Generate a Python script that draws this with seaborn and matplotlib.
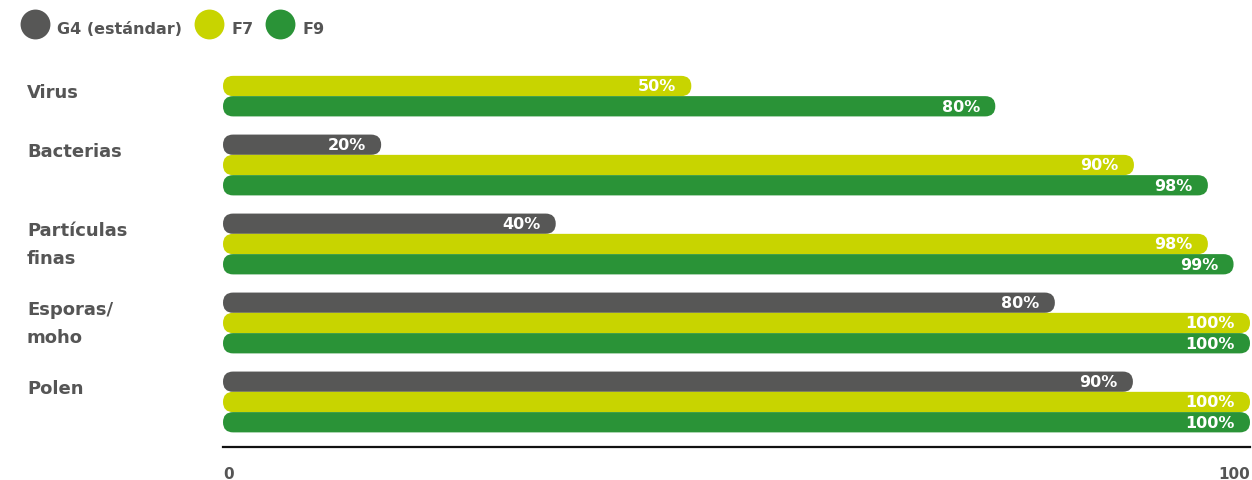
import numpy as np
import pandas as pd
import matplotlib
matplotlib.use("Agg")
import matplotlib.pyplot as plt
from matplotlib.patches import FancyBboxPatch
from matplotlib.lines import Line2D
from matplotlib.transforms import blended_transform_factory, offset_copy
import seaborn as sns

# ---- data ----
categories = ["Virus", "Bacterias", "Partículas\nfinas", "Esporas/\nmoho", "Polen"]
series_names = ["G4 (estándar)", "F7", "F9"]
# printed percentages
g4_labels = [None, 20, 40, 80, 90]
f7_labels = [50, 90, 98, 100, 100]
f9_labels = [80, 98, 99, 100, 100]
# drawn bar lengths (axis 0..100)
g4_lengths = [None, 15.4, 32.4, 81.0, 88.6]
f7_lengths = [45.6, 88.7, 95.9, 100, 100]
f9_lengths = [75.2, 95.9, 98.4, 100, 100]
x_tick_values = [0, 100]
x_tick_labels = ["0", "100"]
colors = ["#575756", "#c8d400", "#2a9337"]

rows = []
for name, lens, labs in zip(series_names, [g4_lengths, f7_lengths, f9_lengths],
                            [g4_labels, f7_labels, f9_labels]):
    for cat, v, lab in zip(categories, lens, labs):
        if v is not None:
            rows.append({"cat": cat, "serie": name, "val": v, "label": f"{lab}%"})
df = pd.DataFrame(rows)

sns.set_style("white")
plt.rcParams["font.family"] = ["DejaVu Sans"]
GRAY = "#555555"

W, H, DPI = 1252, 481, 100
fig = plt.figure(figsize=(W / DPI, H / DPI), dpi=DPI)
ax_left_px, ax_right_px = 223, 1250
ax_bottom_px, ax_top_px = 448, 47.5
ax = fig.add_axes([ax_left_px / W, 1 - ax_bottom_px / H,
                   (ax_right_px - ax_left_px) / W, (ax_bottom_px - ax_top_px) / H])

sns.barplot(data=df, y="cat", x="val", hue="serie", order=categories,
            hue_order=series_names, palette=colors, orient="h", width=0.77,
            dodge=True, legend=False, ax=ax, saturation=1, linewidth=0)

ax.set_xlim(0, 100)
ax.set_ylim(4.57, -0.5)

# pixel scales
px_x = (ax_right_px - ax_left_px) / 100.0
px_y = (ax_bottom_px - ax_top_px) / (4.57 + 0.5)

bars = [p for p in list(ax.patches) if np.isfinite(p.get_width()) and p.get_width() > 0]
cat_top = {}
for p in bars:
    x0, y0 = p.get_x(), p.get_y()
    w, h = p.get_width(), p.get_height()
    fc = p.get_facecolor()
    p.remove()
    yc = y0 + h / 2
    ci = int(round(yc))
    rpx = h * px_y / 2.0
    r = rpx / px_x * 0.999
    m = px_x / px_y
    fb = FancyBboxPatch((x0, y0), w, h, boxstyle=f"round,pad=0,rounding_size={r}",
                        mutation_aspect=m, facecolor=fc, edgecolor="none", linewidth=0)
    ax.add_patch(fb)
    cat_top[ci] = min(cat_top.get(ci, 1e9), y0)

# value labels, matched by category & series order
for _, row in df.iterrows():
    ci = categories.index(row["cat"])
    si = series_names.index(row["serie"])
    bw = 0.77 / 3
    yc = ci - 0.77 / 2 + bw * (si + 0.5)
    ax.text(row["val"] - 1.5, yc, row["label"], ha="right", va="center",
            color="white", fontsize=11.5, fontweight="bold")

# category labels
bt = blended_transform_factory(fig.transFigure, ax.transData)
for i, cat in enumerate(categories):
    tr = offset_copy(bt, fig=fig, x=0, y=-7 * 72 / DPI, units="points")
    ax.text(27 / W, cat_top[i], cat, transform=tr, ha="left", va="top",
            color=GRAY, fontsize=13, fontweight="bold", linespacing=1.75)

ax.set_yticks([])
ax.set_ylabel("")
ax.set_xlabel("")
ax.set_xticks(x_tick_values)
ax.set_xticklabels(x_tick_labels, color=GRAY, fontsize=11, fontweight="bold")
for lab, ha in zip(ax.get_xticklabels(), ["left", "right"]):
    lab.set_horizontalalignment(ha)
ax.tick_params(axis="x", length=0, pad=14)
for s in ["top", "right", "left"]:
    ax.spines[s].set_visible(False)
ax.spines["bottom"].set_color("#111111")
ax.spines["bottom"].set_linewidth(1.6)

handles = [Line2D([0], [0], marker="o", linestyle="", markersize=21.5,
                  markerfacecolor=c, markeredgecolor="none") for c in colors]
leg = fig.legend(handles, series_names, loc="upper left",
                 bbox_to_anchor=(20 / W, 1 - 17 / H), ncol=3, frameon=False,
                 handlelength=1.82, handleheight=1.82, handletextpad=0.5,
                 columnspacing=0.75, borderpad=0, borderaxespad=0,
                 prop={"weight": "bold", "size": 11.5})
for t in leg.get_texts():
    t.set_color(GRAY)

fig.savefig("out.png", dpi=DPI)
